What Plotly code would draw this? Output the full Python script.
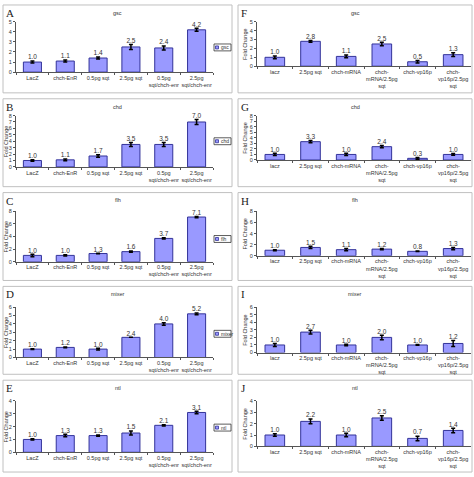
import plotly.graph_objects as go

W, H = 474, 477

left_cats = ["LacZ", "chch-EnR", "0.5pg sqt", "2.5pg sqt", "0.5pg<br>sqt/chch-enr", "2.5pg<br>sqt/chch-enr"]
right_cats = ["lacz", "2.5pg sqt", "chch-mRNA", "chch-<br>mRNA/2.5pg<br>sqt", "chch-vp16p", "chch-<br>vp16p/2.5pg<br>sqt"]

genes = ["gsc", "chd", "flh", "mixer", "ntl"]
letters_left = ["A", "B", "C", "D", "E"]
letters_right = ["F", "G", "H", "I", "J"]

gsc_a = [1.0, 1.1, 1.4, 2.5, 2.4, 4.2]
gsc_a_err = [0.1, 0.1, 0.1, 0.25, 0.2, 0.15]
chd_b = [1.0, 1.1, 1.7, 3.5, 3.5, 7.0]
chd_b_err = [0.1, 0.15, 0.2, 0.3, 0.3, 0.4]
flh_c = [1.0, 1.0, 1.3, 1.6, 3.7, 7.1]
flh_c_err = [0.2, 0.1, 0.05, 0.1, 0.1, 0.1]
mixer_d = [1.0, 1.2, 1.0, 2.4, 4.0, 5.2]
mixer_d_err = [0.05, 0.05, 0.1, 0.0, 0.15, 0.1]
ntl_e = [1.0, 1.3, 1.3, 1.5, 2.1, 3.1]
ntl_e_err = [0.05, 0.1, 0.05, 0.15, 0.05, 0.1]

gsc_f = [1.0, 2.8, 1.1, 2.5, 0.5, 1.3]
gsc_f_err = [0.15, 0.1, 0.15, 0.2, 0.15, 0.2]
chd_g = [1.0, 3.3, 1.0, 2.4, 0.3, 1.0]
chd_g_err = [0.2, 0.2, 0.2, 0.2, 0.15, 0.15]
flh_h = [1.0, 1.5, 1.1, 1.2, 0.8, 1.3]
flh_h_err = [0.1, 0.2, 0.2, 0.1, 0.05, 0.2]
mixer_i = [1.0, 2.7, 1.0, 2.0, 1.0, 1.2]
mixer_i_err = [0.2, 0.25, 0.1, 0.3, 0.05, 0.4]
ntl_j = [1.0, 2.2, 1.0, 2.5, 0.7, 1.4]
ntl_j_err = [0.1, 0.2, 0.15, 0.2, 0.2, 0.2]

left_vals = [gsc_a, chd_b, flh_c, mixer_d, ntl_e]
left_errs = [gsc_a_err, chd_b_err, flh_c_err, mixer_d_err, ntl_e_err]
right_vals = [gsc_f, chd_g, flh_h, mixer_i, ntl_j]
right_errs = [gsc_f_err, chd_g_err, flh_h_err, mixer_i_err, ntl_j_err]

left_ymax = [5, 8, 8, 6, 4]
left_dtick = [1, 1, 2, 1, 1]
right_ymax = [5, 8, 8, 6, 4]
right_dtick = [1, 1, 2, 1, 1]

# pixel layout
left_plot_y = [(19, 70), (114, 166), (211, 262), (308, 359), (403, 455)]
right_plot_y = [(19, 64), (114, 159), (211, 256), (308, 354), (403, 449)]
left_plot_x = (16, 213)
right_plot_x = (257, 471)
panel_x = [(3, 232), (238, 472)]
legend_y = [43, 43, 47, 48, 48]

BAR = "#9999ff"
EDGE = "#333399"
TXT = "#333333"
FONT = "Liberation Sans"


def fx(px):
    return px / W


def fy(py):
    return 1 - py / H


fig = go.Figure()
shapes = []
annotations = []
layout_axes = {}

idx = 0
for col in range(2):
    for r in range(5):
        idx += 1
        ax = "" if idx == 1 else str(idx)
        xa, ya = "x" + ax, "y" + ax
        if col == 0:
            cats, vals, errs = left_cats, left_vals[r], left_errs[r]
            ymax, dt = left_ymax[r], left_dtick[r]
            (py0, py1), (px0, px1) = left_plot_y[r], left_plot_x
            letter = letters_left[r]
        else:
            cats, vals, errs = right_cats, right_vals[r], right_errs[r]
            ymax, dt = right_ymax[r], right_dtick[r]
            (py0, py1), (px0, px1) = right_plot_y[r], right_plot_x
            letter = letters_right[r]
        gene = genes[r]
        fig.add_trace(go.Bar(
            x=cats, y=vals, xaxis=xa, yaxis=ya, name=gene,
            marker=dict(color=BAR, line=dict(color=EDGE, width=1)),
            error_y=dict(type="data", array=errs, color="black", thickness=1.5, width=2),
            showlegend=False, hoverinfo="skip",
        ))
        tops = [v + e for v, e in zip(vals, errs)]
        fig.add_trace(go.Scatter(
            x=cats, y=tops, xaxis=xa, yaxis=ya, mode="text",
            text=["%.1f" % v for v in vals], textposition="top center",
            textfont=dict(size=6.5, color=TXT, family=FONT),
            showlegend=False, hoverinfo="skip", cliponaxis=False,
        ))
        layout_axes["xaxis" + ax] = dict(
            domain=[fx(px0), fx(px1)], anchor=ya, type="category",
            showline=True, linecolor="#555555", linewidth=1,
            ticks="outside", ticklen=2, tickcolor="#555555", tickson="boundaries",
            tickfont=dict(size=5.5, color=TXT, family=FONT), tickangle=0,
            showgrid=False, zeroline=False, fixedrange=True,
        )
        layout_axes["yaxis" + ax] = dict(
            domain=[fy(py1), fy(py0)], anchor=xa, range=[0, ymax], dtick=dt,
            showline=True, linecolor="#555555", linewidth=1,
            ticks="outside", ticklen=2, tickcolor="#555555",
            tickfont=dict(size=5.5, color=TXT, family=FONT),
            showgrid=False, zeroline=False, fixedrange=True,
        )
        top = 2 + 95 * r
        bottom = top + 89 if r < 4 else 475
        x0, x1 = panel_x[col]
        shapes.append(dict(type="rect", xref="paper", yref="paper",
                           x0=fx(x0), x1=fx(x1), y0=fy(bottom), y1=fy(top),
                           line=dict(color="#c0c0c0", width=1), fillcolor="rgba(0,0,0,0)", layer="below"))
        annotations.append(dict(text=letter, xref="paper", yref="paper",
                                x=fx(x0 + 2), y=fy(top + 1), xanchor="left", yanchor="top",
                                showarrow=False, borderpad=0,
                                font=dict(size=11, family="Liberation Serif", color="#222222")))
        annotations.append(dict(text=gene, xref="paper", yref="paper",
                                x=fx((x0 + x1) / 2), y=fy(top + 8), xanchor="center", yanchor="middle",
                                showarrow=False, font=dict(size=5.5, family=FONT, color=TXT)))
        if not (col == 0 and r == 0):
            annotations.append(dict(text="Fold Change", xref="paper", yref="paper",
                                    x=fx(px0 - 10 if col == 0 else px0 - 12), y=fy((py0 + py1) / 2),
                                    xanchor="center", yanchor="middle", textangle=-90,
                                    showarrow=False, font=dict(size=5.5, family=FONT, color=TXT)))
        if col == 0:
            ly = top + legend_y[r]
            shapes.append(dict(type="rect", xref="paper", yref="paper",
                               x0=fx(214), x1=fx(231), y0=fy(ly + 3.5), y1=fy(ly - 3.5),
                               line=dict(color="#333333", width=0.8), fillcolor="white"))
            shapes.append(dict(type="rect", xref="paper", yref="paper",
                               x0=fx(215.5), x1=fx(218.5), y0=fy(ly + 1.5), y1=fy(ly - 1.5),
                               line=dict(color=EDGE, width=0.8), fillcolor=BAR))
            annotations.append(dict(text=gene, xref="paper", yref="paper",
                                    x=fx(219), y=fy(ly), xanchor="left", yanchor="middle",
                                    showarrow=False, font=dict(size=5, family=FONT, color=TXT)))

fig.update_layout(
    width=W, height=H, margin=dict(l=0, r=0, t=0, b=0),
    paper_bgcolor="white", plot_bgcolor="white",
    bargap=0.45, shapes=shapes, annotations=annotations,
    font=dict(family=FONT, size=6, color=TXT), showlegend=False,
    **layout_axes,
)

fig.write_html("out.html", config={"displayModeBar": False},
               post_script="document.body.style.margin='0px';")
